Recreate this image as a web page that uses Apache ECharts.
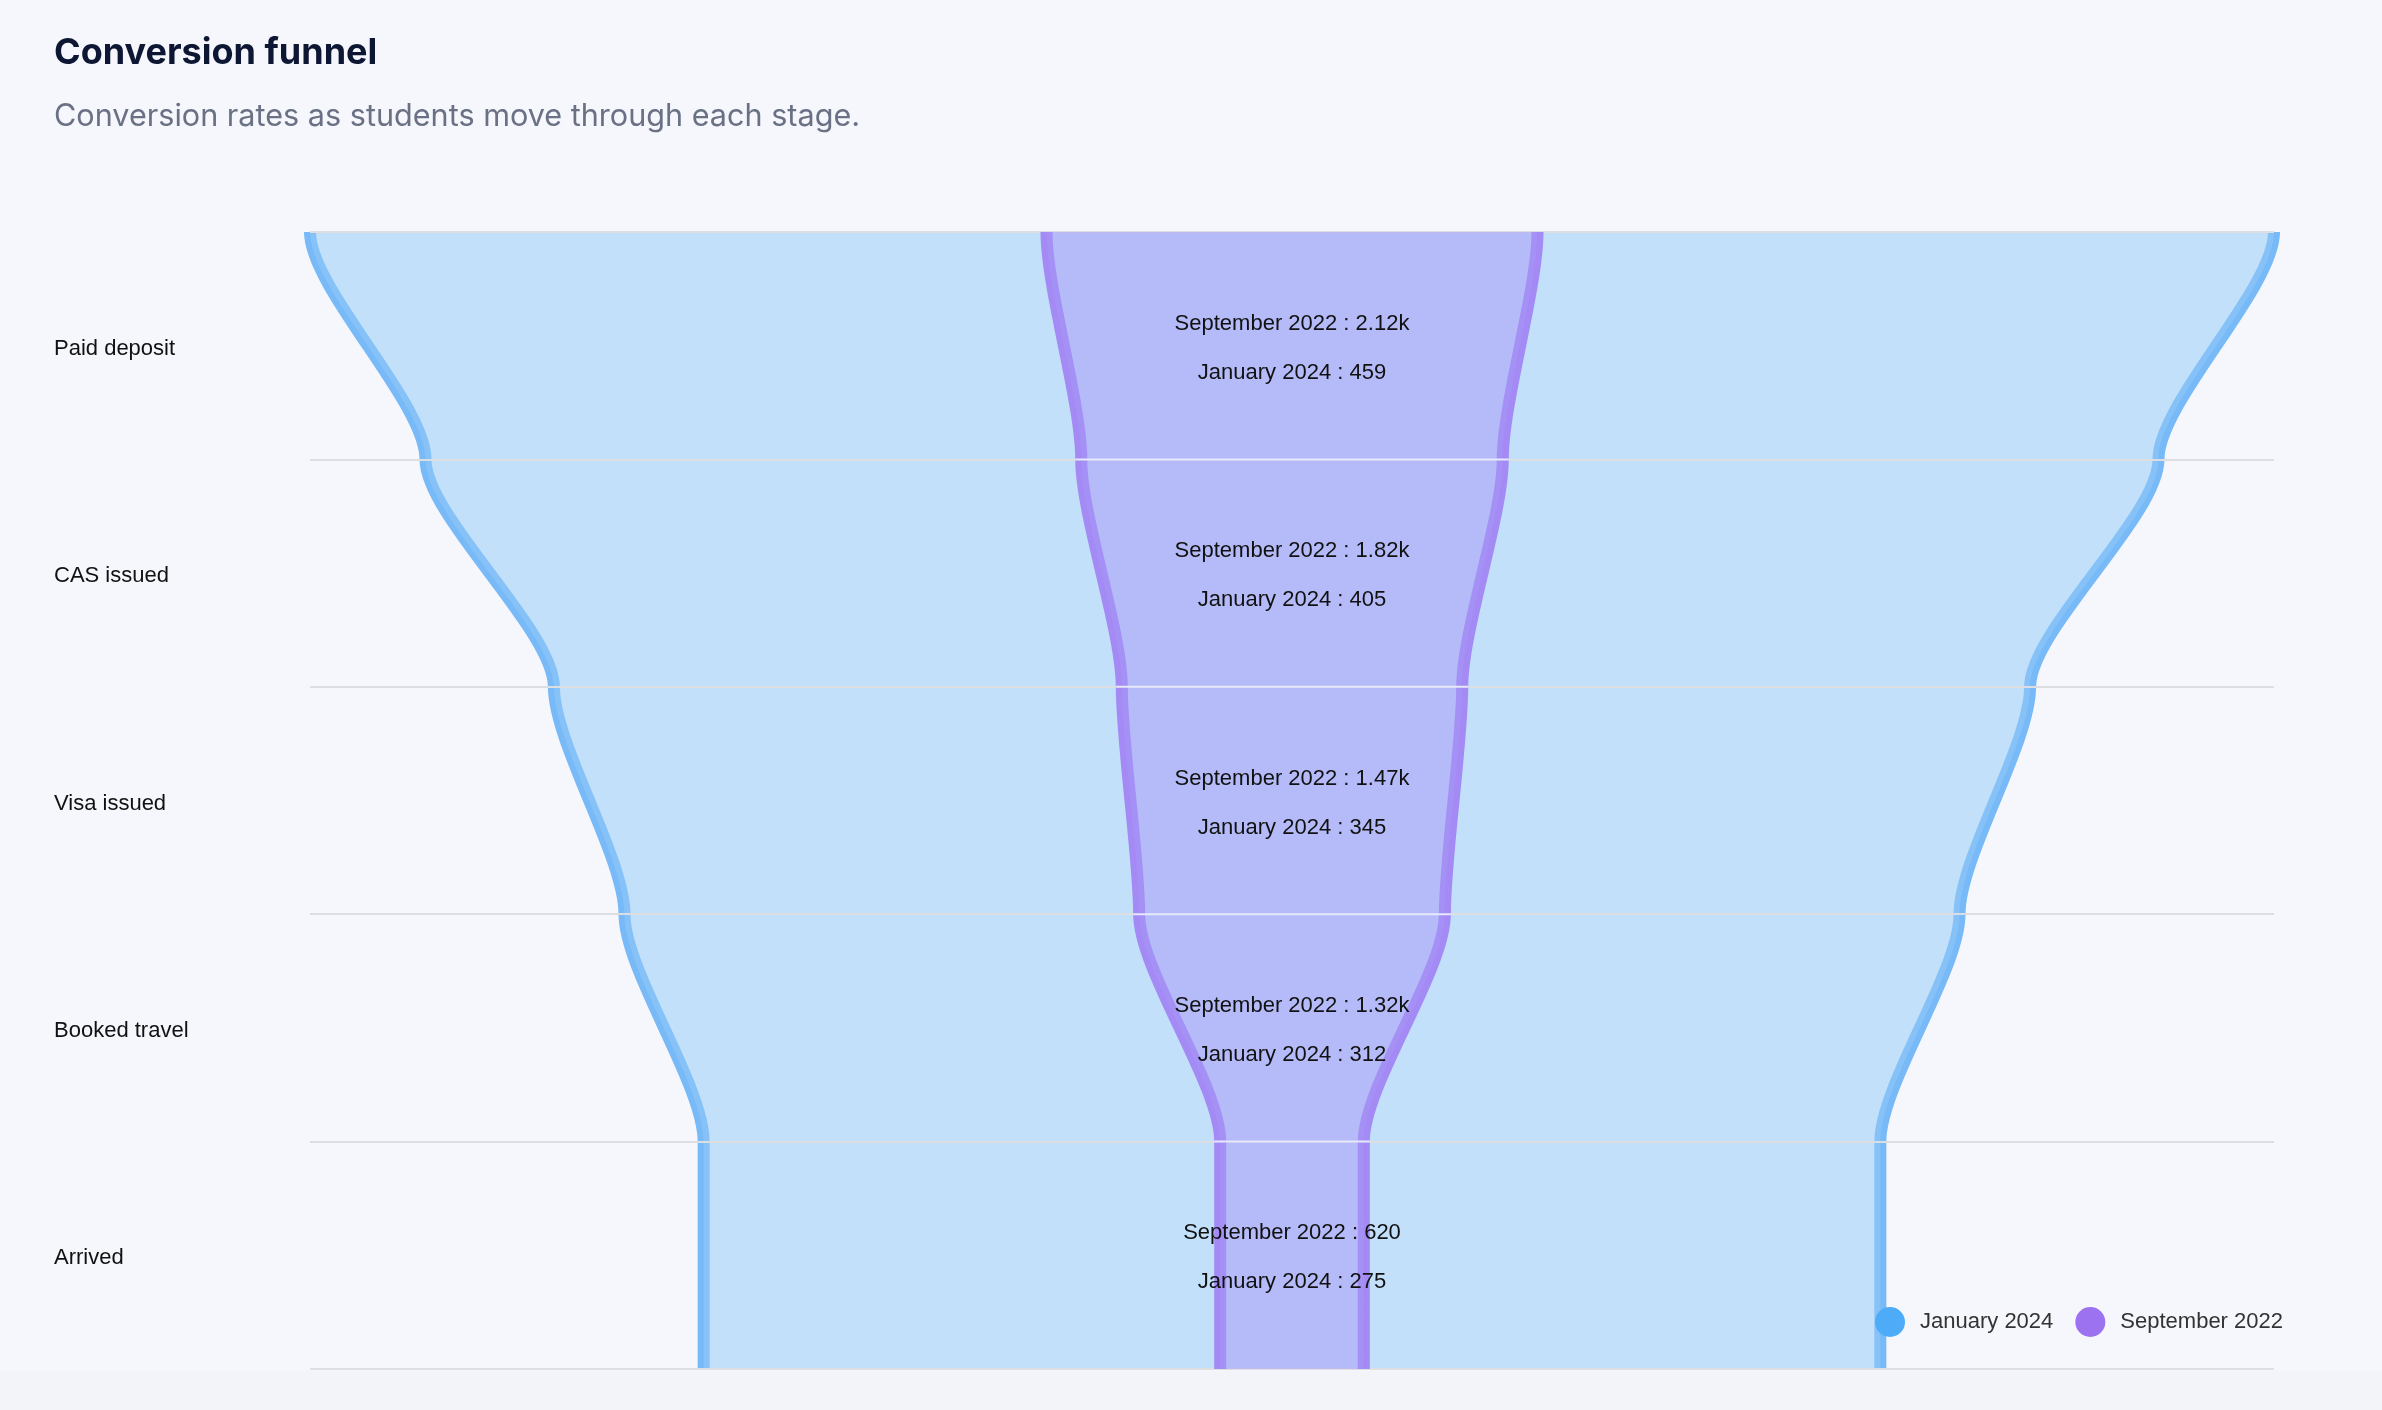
<!DOCTYPE html>
<html>
<head>
<meta charset="utf-8">
<script src="https://cdn.jsdelivr.net/npm/echarts@6/dist/echarts.min.js"></script>
<style>
  html, body { margin: 0; padding: 0; background: #f5f7fc; }
  #chart { width: 2382px; height: 1410px; }
</style>
</head>
<body>
<div id="chart"></div>
<script>
// ---- data ----
const stages = ['Paid deposit', 'CAS issued', 'Visa issued', 'Booked travel', 'Arrived'];
const seriesNames = ['January 2024', 'September 2022'];
const janValues = [459, 405, 345, 312, 275];
const sepValues = [2120, 1820, 1470, 1320, 620];

const janMax = Math.max.apply(null, janValues);
const sepMax = Math.max.apply(null, sepValues);

function fmt(v) {
  return v >= 1000 ? (+(v / 1000).toFixed(2)) + 'k' : String(v);
}

const LABEL_FONT = 'Liberation Sans, Arial, Helvetica, sans-serif';

function makeRender(vals, cfg) {
  return function (params, api) {
    const i = params.dataIndex;
    const v0 = vals[i];
    const v1 = i < vals.length - 1 ? vals[i + 1] : vals[i];
    const c = api.coord([0, i]);
    const h = api.size([0, 1])[1];
    const y0 = c[1] - h / 2;
    const y1 = c[1] + h / 2;
    const L0 = api.coord([-v0, i])[0];
    const R0 = api.coord([v0, i])[0];
    const L1 = api.coord([-v1, i])[0];
    const R1 = api.coord([v1, i])[0];
    const k = 0.25 * h;
    const leftEdge = 'M' + L0 + ' ' + y0 + ' C' + L0 + ' ' + (y0 + k) + ' ' + L1 + ' ' + (y1 - k) + ' ' + L1 + ' ' + y1;
    const rightEdge = 'M' + R0 + ' ' + y0 + ' C' + R0 + ' ' + (y0 + k) + ' ' + R1 + ' ' + (y1 - k) + ' ' + R1 + ' ' + y1;
    const area = leftEdge +
      ' L' + R1 + ' ' + y1 +
      ' C' + R1 + ' ' + (y1 - k) + ' ' + R0 + ' ' + (y0 + k) + ' ' + R0 + ' ' + y0 + ' Z';
    const children = [
      { type: 'path', shape: { pathData: leftEdge }, style: { fill: 'none', stroke: cfg.stroke, lineWidth: 12 } },
      { type: 'path', shape: { pathData: rightEdge }, style: { fill: 'none', stroke: cfg.stroke, lineWidth: 12 } },
      { type: 'path', shape: { pathData: area }, style: { fill: cfg.fill, stroke: null } }
    ];
    if (cfg.separators && i > 0) {
      children.push({
        type: 'line',
        shape: { x1: L0 - 6, y1: y0, x2: R0 + 6, y2: y0 },
        style: { stroke: '#e6e8fb', lineWidth: 2 }
      });
    }
    if (cfg.labels) {
      const cx = api.coord([0, i])[0];
      children.push({
        type: 'text',
        x: cx, y: c[1] - 22,
        style: { text: seriesNames[1] + ' : ' + fmt(sepValues[i]), fill: '#111', fontSize: 22, fontFamily: LABEL_FONT, align: 'center', verticalAlign: 'middle' }
      });
      children.push({
        type: 'text',
        x: cx, y: c[1] + 27,
        style: { text: seriesNames[0] + ' : ' + fmt(janValues[i]), fill: '#111', fontSize: 22, fontFamily: LABEL_FONT, align: 'center', verticalAlign: 'middle' }
      });
    }
    return { type: 'group', children: children };
  };
}

const chart = echarts.init(document.getElementById('chart'), null, { renderer: 'canvas' });

const option = {
  backgroundColor: '#f5f7fc',
  animation: false,
  title: [
    {
      text: 'Conversion funnel',
      left: 54, top: 35, padding: 0,
      textStyle: { fontSize: 36, fontWeight: 700, color: '#0d1633', fontFamily: 'Inter, sans-serif' }
    },
    {
      text: 'Conversion rates as students move through each stage.',
      left: 54, top: 101, padding: 0,
      textStyle: { fontSize: 30.6, fontWeight: 400, color: '#6b7184', fontFamily: 'Inter, sans-serif' }
    }
  ],
  legend: {
    data: seriesNames,
    left: 1875, top: 1307, padding: 0,
    icon: 'circle', itemWidth: 50, itemHeight: 30, itemGap: 22,
    textStyle: { fontSize: 22, color: '#333', fontFamily: LABEL_FONT }
  },
  graphic: [
    { type: 'rect', left: 0, top: 1371, silent: true, z: -10, shape: { width: 2382, height: 39 }, style: { fill: '#f3f4f9' } }
  ],
  grid: { left: 310, right: 108, top: 232, bottom: 41, containLabel: false, outerBoundsMode: 'none' },
  xAxis: [
    { type: 'value', min: -janMax, max: janMax, show: false },
    { type: 'value', min: -4 * sepMax, max: 4 * sepMax, show: false }
  ],
  yAxis: {
    type: 'category',
    data: stages,
    inverse: true,
    z: 3,
    axisLine: { show: false },
    axisTick: { show: false },
    axisLabel: { align: 'left', verticalAlign: 'top', lineHeight: 6, margin: 256, fontSize: 22, color: '#111', fontFamily: LABEL_FONT },
    splitLine: { show: true, interval: 0, lineStyle: { color: '#dcdee2', width: 2 } }
  },
  series: [
    {
      type: 'custom',
      name: seriesNames[0],
      xAxisIndex: 0, yAxisIndex: 0, z: 2,
      itemStyle: { color: '#4dabf7' },
      data: janValues.map(function (v, i) { return [v, i]; }),
      encode: { x: 0, y: 1 },
      renderItem: makeRender(janValues, { stroke: '#78b9f7', fill: 'rgba(147,203,248,0.52)' })
    },
    {
      type: 'custom',
      name: seriesNames[1],
      xAxisIndex: 1, yAxisIndex: 0, z: 4,
      itemStyle: { color: '#9c72f0' },
      data: sepValues.map(function (v, i) { return [v, i]; }),
      encode: { x: 0, y: 1 },
      renderItem: makeRender(sepValues, { stroke: '#a48af4', fill: 'rgba(166,150,246,0.5)', separators: true, labels: true })
    }
  ]
};

chart.setOption(option);
</script>
</body>
</html>
